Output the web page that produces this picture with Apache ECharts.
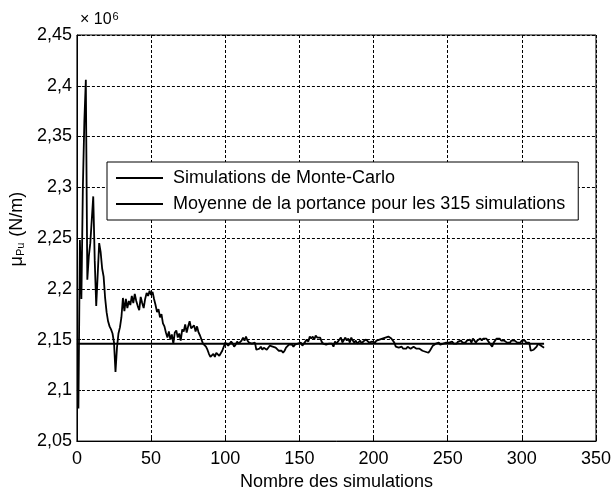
<!DOCTYPE html>
<html>
<head>
<meta charset="utf-8">
<script src="https://cdn.jsdelivr.net/npm/echarts@6/dist/echarts.min.js"></script>
<style>
html,body{margin:0;padding:0;background:#fff;}
#chart{width:614px;height:496px;}
</style>
</head>
<body>
<div id="chart"></div>
<script>
// Monte-Carlo running values (×10^6 N/m), simulation 1..315
const simValues = [
2.082,2.248,2.190,2.300,2.365,2.406,2.209,2.232,2.245,2.268,
2.291,2.228,2.183,2.214,2.245,2.236,2.220,2.212,2.191,2.177,
2.168,2.163,2.160,2.156,2.147,2.118,2.142,2.156,2.162,2.172,
2.191,2.178,2.190,2.181,2.188,2.184,2.193,2.186,2.195,2.188,
2.183,2.179,2.192,2.186,2.181,2.190,2.196,2.193,2.198,2.194,
2.197,2.190,2.184,2.177,2.180,2.172,2.175,2.166,2.163,2.157,
2.152,2.158,2.150,2.155,2.146,2.157,2.159,2.152,2.156,2.149,
2.160,2.158,2.165,2.157,2.163,2.168,2.161,2.160,2.164,2.158,
2.163,2.157,2.154,2.150,2.146,2.147,2.143,2.140,2.136,2.133,
2.134,2.136,2.133,2.137,2.136,2.134,2.135,2.139,2.138,2.147,
2.146,2.144,2.145,2.148,2.146,2.143,2.145,2.148,2.146,2.147,
2.149,2.152,2.149,2.153,2.149,2.147,2.148,2.146,2.147,2.147,
2.140,2.139,2.141,2.143,2.140,2.142,2.143,2.140,2.141,2.144,
2.145,2.143,2.144,2.142,2.141,2.139,2.138,2.139,2.137,2.139,
2.142,2.143,2.145,2.144,2.145,2.143,2.145,2.144,2.146,2.145,
2.147,2.144,2.146,2.148,2.150,2.148,2.153,2.151,2.153,2.150,
2.154,2.152,2.151,2.152,2.148,2.146,2.147,2.145,2.144,2.146,
2.145,2.146,2.143,2.148,2.146,2.147,2.150,2.152,2.147,2.148,
2.152,2.149,2.151,2.147,2.152,2.149,2.147,2.149,2.146,2.147,
2.149,2.146,2.148,2.147,2.150,2.149,2.147,2.146,2.148,2.147,
2.147,2.149,2.148,2.150,2.149,2.151,2.150,2.152,2.152,2.153,
2.152,2.151,2.149,2.147,2.143,2.144,2.142,2.142,2.143,2.141,
2.140,2.141,2.143,2.142,2.141,2.142,2.143,2.142,2.141,2.140,
2.141,2.140,2.139,2.139,2.138,2.138,2.137,2.139,2.140,2.144,
2.145,2.146,2.146,2.147,2.145,2.144,2.146,2.145,2.147,2.146,
2.147,2.146,2.148,2.146,2.147,2.146,2.148,2.147,2.149,2.147,
2.148,2.147,2.149,2.148,2.150,2.147,2.151,2.149,2.147,2.149,
2.150,2.151,2.149,2.151,2.152,2.151,2.149,2.147,2.146,2.143,
2.147,2.148,2.151,2.150,2.151,2.149,2.150,2.149,2.148,2.147,
2.148,2.147,2.149,2.148,2.149,2.148,2.147,2.148,2.147,2.149,
2.148,2.149,2.147,2.148,2.147,2.139,2.139,2.140,2.139,2.143,
2.146,2.145,2.144,2.143,2.142
];
const meanValue = 2.146;
const meanSpan = [0, 315];
const xTicks = [0, 50, 100, 150, 200, 250, 300, 350];
const yTicks = [2.05, 2.1, 2.15, 2.2, 2.25, 2.3, 2.35, 2.4, 2.45];
const seriesNames = ['Simulations de Monte-Carlo', 'Moyenne de la portance pour les 315 simulations'];
const xTitle = 'Nombre des simulations';

const FONT = 'Liberation Sans, Arial, Helvetica, sans-serif';
const simData = simValues.map((v, i) => [i + 1, v]);
const meanData = meanSpan.map(x => [x, meanValue]);
const fmt = v => String(+(+v).toFixed(2)).replace('.', ',');

const chart = echarts.init(document.getElementById('chart'), null, {renderer: 'canvas'});
chart.setOption({
  animation: false,
  backgroundColor: '#fff',
  grid: {left: 76, right: 13, top: 35, bottom: 52, show: true, borderColor: '#000', borderWidth: 1, backgroundColor: 'transparent'},
  xAxis: {
    type: 'value', min: xTicks[0], max: xTicks[xTicks.length - 1], interval: 50,
    name: xTitle, nameLocation: 'middle', nameGap: 31,
    nameTextStyle: {fontSize: 18, fontFamily: FONT, color: '#000'},
    axisLine: {show: true, lineStyle: {color: '#000', width: 1}},
    axisTick: {show: true, inside: true, length: 4, lineStyle: {color: '#000'}},
    axisLabel: {fontSize: 18, fontFamily: FONT, color: '#000', margin: 9},
    splitLine: {show: true, lineStyle: {color: '#000', width: 1, type: [3, 2]}}
  },
  yAxis: {
    type: 'value', min: yTicks[0], max: yTicks[yTicks.length - 1], interval: 0.05,
    name: '{mu|μ}{sub|Pu}{n| (N/m)}', nameLocation: 'middle', nameGap: 47, nameRotate: 90,
    nameTextStyle: {fontSize: 18, fontFamily: FONT, color: '#000', padding: [0, 0, 0, 18],
      rich: {
        mu: {fontSize: 18, fontFamily: FONT, color: '#000'},
        sub: {fontSize: 11, fontFamily: FONT, color: '#000', verticalAlign: 'bottom', padding: [6, 1, 0, 0]},
        n: {fontSize: 18, fontFamily: FONT, color: '#000'}
      }},
    axisLine: {show: true, lineStyle: {color: '#000', width: 1}},
    axisTick: {show: true, inside: true, length: 4, lineStyle: {color: '#000'}},
    axisLabel: {fontSize: 18, fontFamily: FONT, color: '#000', margin: 5, formatter: fmt},
    splitLine: {show: true, lineStyle: {color: '#000', width: 1, type: [3, 2]}}
  },
  legend: {
    orient: 'vertical', left: 107, top: 162,
    backgroundColor: '#fff', borderColor: '#000', borderWidth: 1,
    padding: [7, 13, 7, 9], itemGap: 8, itemWidth: 47, itemHeight: 2,
    icon: 'rect',
    textStyle: {fontSize: 18, fontFamily: FONT, color: '#000', padding: [0, 0, 0, 5]},
    data: seriesNames
  },
  graphic: [{
    type: 'text', left: 80, top: 11,
    style: {text: '× 10{sup|6}', fontSize: 16, fontFamily: FONT, fill: '#000',
      rich: {sup: {fontSize: 11, fontFamily: FONT, fill: '#000', verticalAlign: 'top', padding: [0, 0, 6, 1]}}}
  }],
  series: [
    {name: seriesNames[0], type: 'line', data: simData, showSymbol: false, symbol: 'none',
     lineStyle: {color: '#000', width: 1.8}, itemStyle: {color: '#000'}, z: 3},
    {name: seriesNames[1], type: 'line', data: meanData, showSymbol: false, symbol: 'none',
     lineStyle: {color: '#000', width: 2}, itemStyle: {color: '#000'}, z: 2}
  ]
});
</script>
</body>
</html>
